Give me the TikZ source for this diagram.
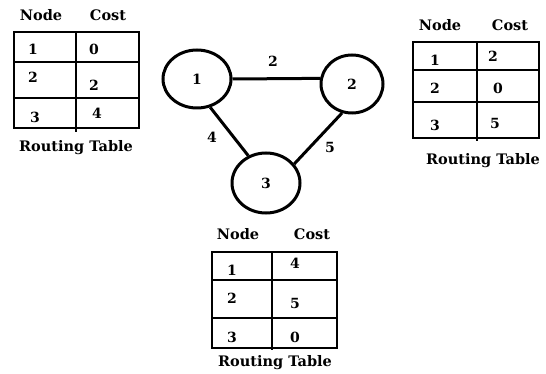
\documentclass[tikz,border=0pt]{standalone}
\usepackage{fontspec}
\setmainfont{DejaVu Serif}
\usetikzlibrary{shapes.geometric}
\begin{document}
\begin{tikzpicture}[x=1pt,y=-1pt,
  grid/.style={line width=2.2pt},
  vtx/.style={ellipse,draw,line width=3pt,inner sep=0pt},
  edge/.style={line width=3pt},
  hd/.style={font=\bfseries\fontsize{14.5}{16}\selectfont,inner sep=0pt},
  captxt/.style={font=\bfseries\fontsize{14.5}{16}\selectfont,inner sep=0pt},
  num/.style={font=\bfseries\fontsize{14}{16}\selectfont,inner sep=0pt}]
\useasboundingbox[fill=white] (0,0) rectangle (546,374);

% ---------- Table 1 (node 1) ----------
\node[hd] (t1n) at (41,15) {Node};
\node[hd] (t1c) at (108,15) {Cost};
\draw[grid] (14,32) rectangle (139,128);
\draw[grid] (14,62) -- (139,62) (14,98) -- (139,98) (76,32) -- (76,132);
\node[num] (t1a) at (33,49) {1};
\node[num] (t1b) at (94,49) {0};
\node[num] (t1d) at (33,77) {2};
\node[num] (t1e) at (94,85) {2};
\node[num] (t1f) at (35,117) {3};
\node[num] (t1g) at (97,113) {4};
\node[captxt] (t1r) at (76,148) {Routing Table};

% ---------- Table 2 (node 2) ----------
\node[hd] (t2n) at (440,25) {Node};
\node[hd] (t2c) at (510,25) {Cost};
\draw[grid] (413,42) rectangle (539,138);
\draw[grid] (413,70) -- (539,70) (413,102) -- (539,102) (477,42) -- (477,141);
\node[num] (t2a) at (435,60) {1};
\node[num] (t2b) at (493,56) {2};
\node[num] (t2d) at (435,88) {2};
\node[num] (t2e) at (498,88) {0};
\node[num] (t2f) at (435,125) {3};
\node[num] (t2g) at (495,123) {5};
\node[captxt] (t2r) at (483,161) {Routing Table};

% ---------- Table 3 (node 3) ----------
\node[hd] (t3n) at (238,234) {Node};
\node[hd] (t3c) at (312,234) {Cost};
\draw[grid] (212,252) rectangle (337,348);
\draw[grid] (212,280) -- (337,280) (212,318) -- (337,318) (272,252) -- (272,350);
\node[num] (t3a) at (232,270) {1};
\node[num] (t3b) at (295,263) {4};
\node[num] (t3d) at (232,298) {2};
\node[num] (t3e) at (295,303) {5};
\node[num] (t3f) at (232,337) {3};
\node[num] (t3g) at (295,337) {0};
\node[captxt] (t3r) at (275,363) {Routing Table};

% ---------- Graph ----------
\node[vtx,minimum width=68pt,minimum height=58pt,num] (n1) at (197,79) {1};
\node[vtx,minimum width=62pt,minimum height=58pt,num] (n2) at (352,84) {2};
\node[vtx,minimum width=68pt,minimum height=60pt,num] (n3) at (266,183) {3};
\draw[edge] (n1.east) -- (n2.170);
\draw[edge] (n1.-65) -- (n3.123);
\draw[edge] (n2.-109) -- (n3.34);
\node[num] (w12) at (273,61) {2};
\node[num] (w13) at (212,137) {4};
\node[num] (w23) at (330,147) {5};
\end{tikzpicture}
\end{document}
